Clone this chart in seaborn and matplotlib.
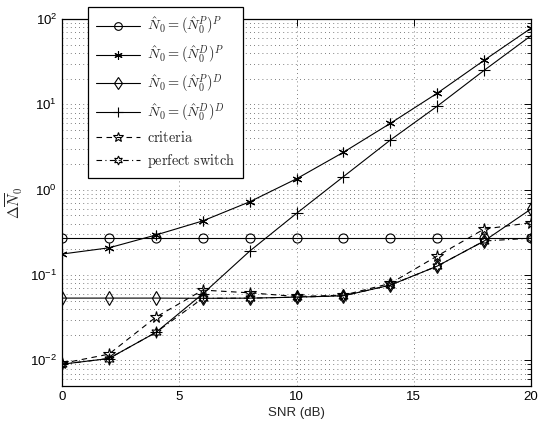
import numpy as np
import pandas as pd
import matplotlib
matplotlib.use("Agg")
import matplotlib.pyplot as plt
import seaborn as sns
from matplotlib.ticker import LogLocator, FixedLocator, NullFormatter

# ---- data ----
snr = [0, 2, 4, 6, 8, 10, 12, 14, 16, 18, 20]
n_pp = [0.27, 0.27, 0.27, 0.27, 0.27, 0.27, 0.27, 0.27, 0.27, 0.27, 0.27]
n_dp = [0.176, 0.208, 0.294, 0.43, 0.72, 1.34, 2.74, 5.98, 13.5, 32.8, 78]
n_pd = [0.0536, 0.0536, 0.0536, 0.0533, 0.0535, 0.055, 0.057, 0.076, 0.127, 0.25, 0.593]
n_dd = [0.009, 0.0105, 0.0212, 0.06, 0.19, 0.527, 1.42, 3.81, 9.5, 25, 63.7]
criteria = [0.0092, 0.0118, 0.032, 0.0665, 0.0618, 0.056, 0.058, 0.0796, 0.167, 0.345, 0.41]
perfect = [0.009, 0.0105, 0.0212, 0.0533, 0.0535, 0.055, 0.057, 0.076, 0.127, 0.25, 0.27]

labels = [r"$\hat{N}_0=(\hat{N}_0^P)^P$",
          r"$\hat{N}_0=(\hat{N}_0^D)^P$",
          r"$\hat{N}_0=(\hat{N}_0^P)^D$",
          r"$\hat{N}_0=(\hat{N}_0^D)^D$",
          r"$\mathrm{criteria}$",
          r"$\mathrm{perfect\ switch}$"]
x_ticks = [0, 5, 10, 15, 20]

sns.set_style("white")
plt.rcParams["font.family"] = ["Liberation Sans", "DejaVu Sans"]
plt.rcParams["mathtext.fontset"] = "cm"

fig = plt.figure(figsize=(5.38, 4.26), dpi=100)
ax = fig.add_axes([62 / 538, 1 - 386 / 426, (531 - 62) / 538, (386 - 19) / 426])

series = [n_pp, n_dp, n_pd, n_dd, criteria, perfect]
styles = [
    dict(marker="o", markersize=6.5, linestyle="-"),
    dict(marker=(6, 2, 0), markersize=7, linestyle="-"),
    dict(marker="d", markersize=7, linestyle="-"),
    dict(marker="+", markersize=8, linestyle="-"),
    dict(marker="*", markersize=8.5, linestyle=(0, (5, 4))),
    dict(marker=(6, 1, 0), markersize=7.5, linestyle=(0, (5, 3, 1, 3))),
]
for vals, lab, st in zip(series, labels, styles):
    df = pd.DataFrame({"SNR": snr, "val": vals})
    sns.lineplot(data=df, x="SNR", y="val", ax=ax, color="black", linewidth=0.8,
                 markerfacecolor="none", markeredgecolor="black", markeredgewidth=0.8,
                 label=lab, **st)

ax.set_yscale("log")
ax.set_xlim(0, 20)
ax.set_ylim(0.005, 100)
ax.xaxis.set_major_locator(FixedLocator(x_ticks))
ax.yaxis.set_major_locator(LogLocator(base=10, numticks=10))
ax.yaxis.set_minor_locator(LogLocator(base=10, subs=np.arange(2, 10), numticks=20))
ax.yaxis.set_minor_formatter(NullFormatter())

ax.grid(True, which="major", axis="both", linestyle=(0, (1, 4)), color="#555555", linewidth=0.6)
ax.grid(True, which="minor", axis="y", linestyle=(0, (1, 4)), color="#555555", linewidth=0.6)

ax.tick_params(axis="both", which="both", direction="in", top=True, right=True,
               labelsize=9.5, colors="black")
ax.tick_params(which="major", length=5, width=0.7)
ax.tick_params(which="minor", length=3, width=0.6)
for sp in ax.spines.values():
    sp.set_visible(True)
    sp.set_color("black")
    sp.set_linewidth(0.9)

ax.set_xlabel("SNR (dB)", fontsize=9.5, labelpad=3)
ax.set_ylabel(r"$\Delta\overline{N}_0$", fontsize=11, labelpad=4)

leg = ax.legend(loc="upper left", bbox_to_anchor=(88 / 538, 1 - 7 / 426),
                bbox_transform=fig.transFigure, borderaxespad=0, fancybox=False,
                framealpha=1, edgecolor="black", numpoints=1, handlelength=3.1,
                labelspacing=0.45, fontsize=10.3, handletextpad=0.45, borderpad=0.55,
                markerscale=0.85)
leg.get_frame().set_linewidth(0.9)
leg.set_zorder(5)

fig.savefig("out.png", dpi=100)
